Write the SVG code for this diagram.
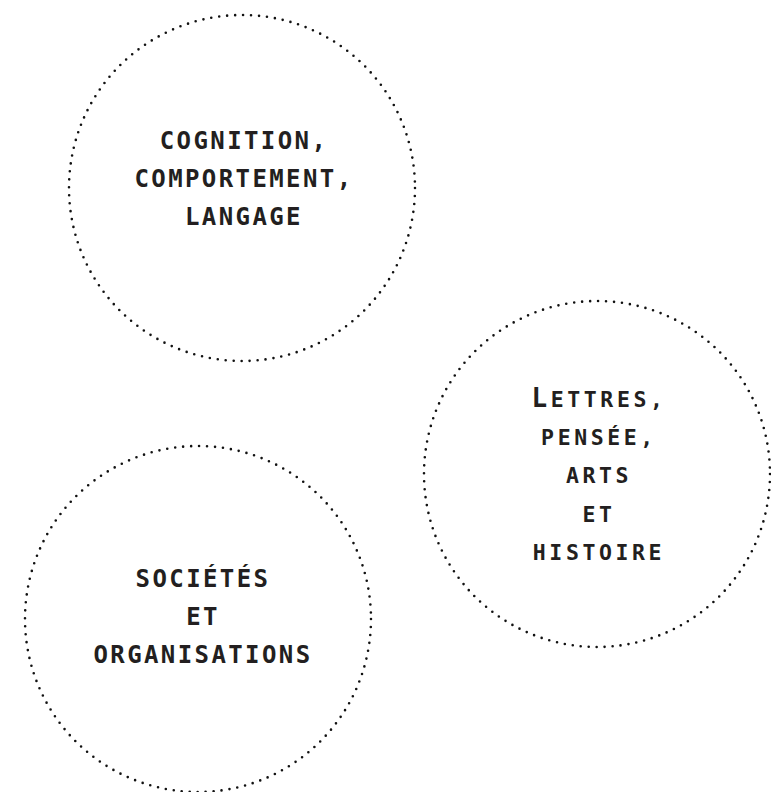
<svg xmlns="http://www.w3.org/2000/svg" width="771" height="792" viewBox="0 0 771 792">
<style>
.ring{fill:none;stroke:#111;stroke-width:2.6;stroke-linecap:round;stroke-dasharray:0 8}
.t{font-family:"DejaVu Sans Mono","Liberation Mono",monospace;font-weight:bold;font-size:24px;letter-spacing:2.4px;fill:#231f20;text-anchor:middle}
.s{font-size:21.5px;letter-spacing:3.6px}
</style>
<rect width="771" height="792" fill="#fff"/>
<g id="cognition">
<circle class="ring" cx="242" cy="188" r="173"/>
<text class="t" x="244" y="149">COGNITION,</text>
<text class="t" x="244" y="187">COMPORTEMENT,</text>
<text class="t" x="244" y="225">LANGAGE</text>
</g>
<g id="lettres">
<circle class="ring" cx="597" cy="474" r="173"/>
<text class="t s" x="599" y="407"><tspan font-size="26px">L</tspan>ETTRES,</text>
<text class="t s" x="599" y="445">PENSÉE,</text>
<text class="t s" x="599" y="483">ARTS</text>
<text class="t s" x="599" y="522">ET</text>
<text class="t s" x="599" y="560">HISTOIRE</text>
</g>
<g id="societes">
<circle class="ring" cx="198" cy="619" r="173"/>
<text class="t" x="203" y="587">SOCIÉTÉS</text>
<text class="t" x="203" y="625">ET</text>
<text class="t" x="203" y="663">ORGANISATIONS</text>
</g>
<g id="connectors"></g>
</svg>
